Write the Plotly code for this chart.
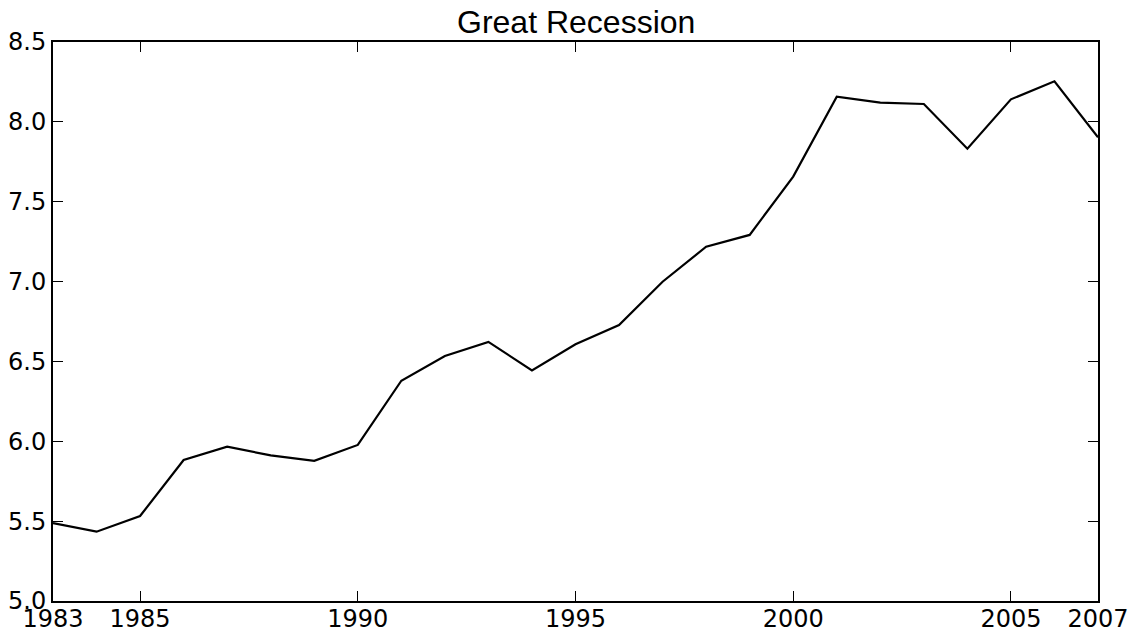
import plotly.graph_objects as go

# Annual series, 1983-2007
years = list(range(1983, 2008))
values = [5.488, 5.434, 5.532, 5.883, 5.966, 5.912, 5.878, 5.977, 6.379, 6.534,
          6.622, 6.444, 6.607, 6.728, 6.999, 7.218, 7.292, 7.657, 8.158, 8.120,
          8.112, 7.832, 8.141, 8.254, 7.903]

x_ticks = [1983, 1985, 1990, 1995, 2000, 2005, 2007]
y_ticks = [5.0, 5.5, 6.0, 6.5, 7.0, 7.5, 8.0, 8.5]
title_text = "Great Recession"

fig = go.Figure()
fig.add_trace(go.Scatter(
    x=years, y=values, mode="lines",
    line=dict(color="black", width=2.2),
    hoverinfo="skip", showlegend=False,
))

axis_common = dict(
    showline=True, linecolor="black", linewidth=2, mirror="ticks",
    ticks="inside", ticklen=10, tickwidth=1.2, tickcolor="black",
    showgrid=False, zeroline=False, automargin=False,
    tickfont=dict(family="DejaVu Sans", size=24, color="black"),
)

fig.update_layout(
    width=1138, height=636,
    margin=dict(l=53, r=40, t=42, b=35),
    paper_bgcolor="white", plot_bgcolor="white",
    xaxis=dict(range=[1983, 2007], tickvals=x_ticks,
               ticktext=[str(v) for v in x_ticks],
               ticklabelstandoff=-5, **axis_common),
    yaxis=dict(range=[5.0, 8.5], tickvals=y_ticks,
               ticktext=[f"{v:.1f}" for v in y_ticks], **axis_common),
    annotations=[dict(
        text=title_text, x=0.5, y=1, xref="paper", yref="paper",
        xanchor="center", yanchor="bottom", showarrow=False, yshift=0,
        font=dict(family="Liberation Sans", size=32, color="black"),
    )],
)

fig.write_html("out.html")
